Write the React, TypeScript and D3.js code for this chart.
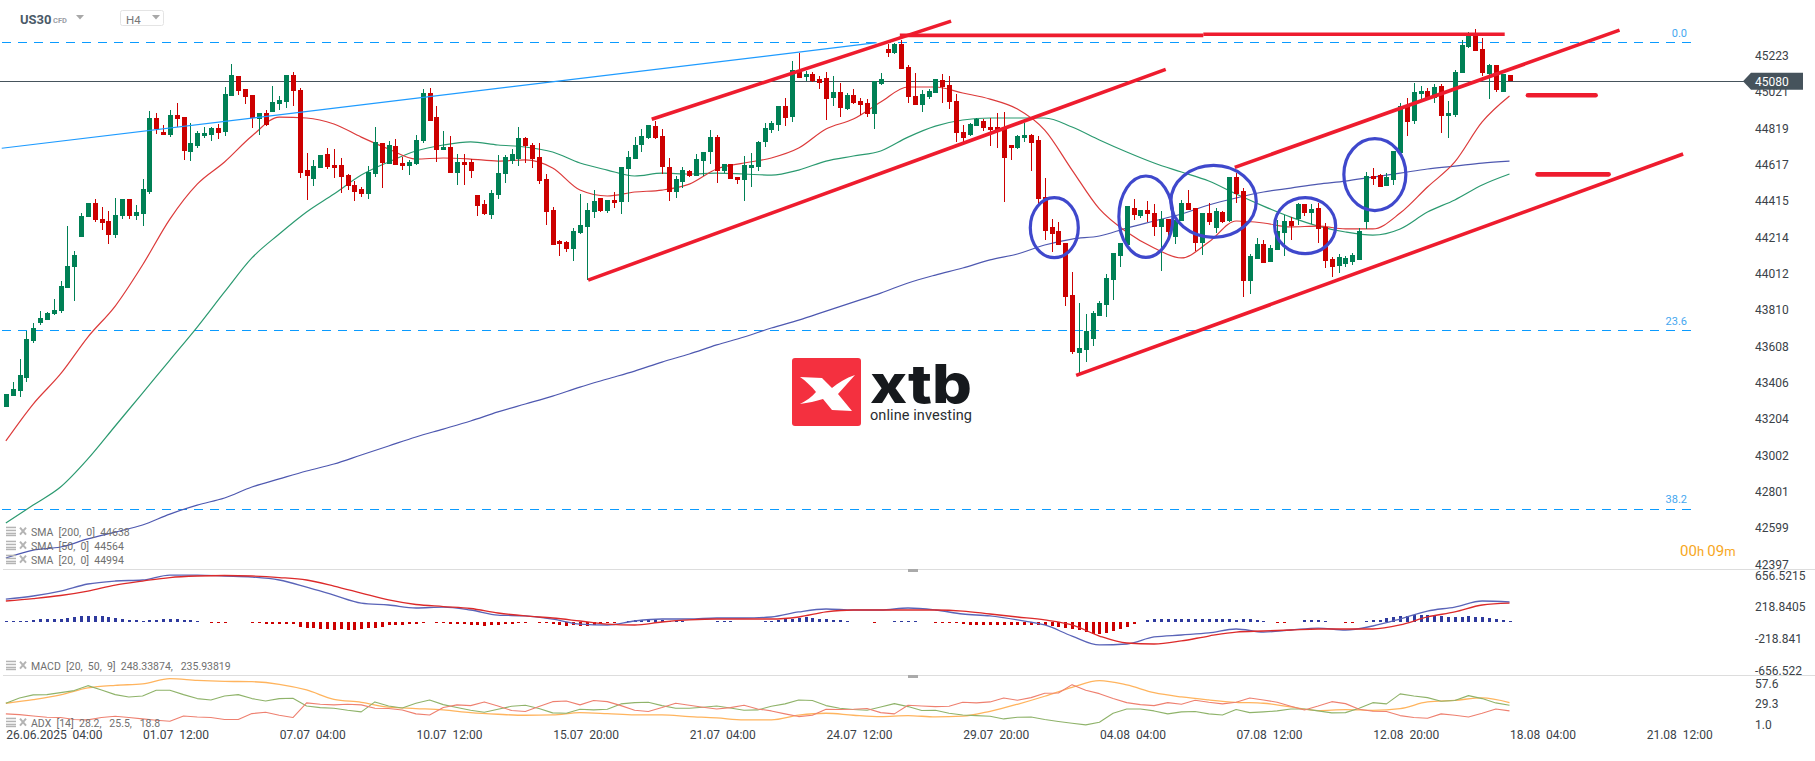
import * as d3 from "d3";
import React, { useEffect, useRef } from "react";

// OHLC, one value per candle
const candleOpen = [
  43274,43333,43360,43433,43638,43738,43755,43786,43805,43933,
  44049,44216,44327,44404,44316,44304,44227,44332,44427,44332,
  44343,44465,44876,44798,44782,44893,44882,44687,44721,44776,
  44782,44821,44798,44998,45109,45037,45004,44871,44904,44909,
  44954,44965,45115,45031,44587,44538,44599,44676,44615,44615,
  44560,44504,44482,44454,44565,44737,44621,44721,44626,44610,
  44621,44748,45015,44882,44698,44715,44571,44632,44632,44449,
  44399,44338,44449,44565,44637,44649,44765,44726,44660,44537,
  44366,44194,44188,44149,44238,44271,44354,44432,44360,44421,
  44410,44593,44649,44726,44765,44832,44776,44604,44465,44521,
  44582,44554,44637,44687,44771,44582,44621,44549,44532,44599,
  44604,44743,44809,44837,44943,44882,45143,45104,45120,45093,
  45098,44987,45020,44926,45004,44970,44959,44898,45065,45259,
  45237,45287,45159,44998,44948,44993,45015,45087,45059,44970,
  44798,44782,44832,44859,44826,44826,44821,44726,44710,44765,
  44782,44754,44438,44271,44249,44182,43894,43572,43588,43650,
  43777,43838,43977,44110,44171,44377,44332,44365,44349,44271,
  44316,44216,44304,44404,44377,44182,44349,44266,44354,44304,
  44549,44471,43971,44093,44177,44077,44143,44238,44304,44316,
  44399,44349,44377,44271,44094,44055,44065,44075,44090,44299,
  44554,44560,44499,44532,44682,44943,44859,45009,45026,44987,
  45054,44887,44893,45126,45270,45346,45259,45120,45170,45020,
  45115,
];
const candleHigh = [
  43344,43410,43536,43692,43738,43804,43799,43872,43971,44277,
  44138,44349,44404,44427,44382,44360,44432,44427,44427,44393,
  44538,44915,44904,44837,44921,44959,44882,44848,44804,44826,
  44826,44843,45048,45176,45109,45037,45004,44904,44921,45054,
  44998,45115,45131,45043,44682,44643,44671,44710,44704,44654,
  44565,44526,44493,44610,44826,44737,44748,44760,44660,44643,
  44782,45037,45043,44943,44804,44776,44676,44676,44649,44449,
  44421,44477,44671,44671,44704,44826,44771,44737,44737,44565,
  44382,44199,44193,44266,44454,44404,44477,44432,44421,44465,
  44604,44693,44771,44815,44837,44859,44815,44654,44554,44604,
  44588,44676,44687,44810,44782,44621,44621,44549,44665,44682,
  44748,44848,44859,44943,44987,45192,45237,45137,45131,45109,
  45131,45109,45070,45015,45037,44987,44982,45082,45126,45287,
  45295,45309,45170,45126,45031,45037,45093,45120,45109,45009,
  44837,44848,44876,44870,44874,44904,44908,44726,44782,44848,
  44787,44776,44543,44316,44299,44182,44021,43849,43788,43805,
  43860,44009,44127,44182,44388,44426,44365,44415,44399,44360,
  44316,44320,44421,44476,44377,44349,44404,44377,44360,44549,
  44571,44488,44121,44210,44199,44171,44310,44338,44328,44404,
  44399,44399,44404,44293,44105,44121,44110,44125,44265,44576,
  44599,44565,44571,44693,44959,44987,45070,45054,45043,45065,
  45065,44970,45143,45309,45355,45370,45320,45176,45170,45120,
  45115,
];
const candleLow = [
  43270,43333,43327,43410,43627,43727,43755,43780,43794,43933,
  43860,44216,44327,44299,44255,44177,44210,44315,44315,44310,
  44277,44454,44787,44782,44771,44826,44643,44637,44710,44765,
  44748,44760,44776,44998,45004,44954,44821,44782,44832,44909,
  44921,44932,44943,44543,44421,44499,44599,44593,44543,44460,
  44476,44415,44438,44427,44549,44488,44621,44615,44587,44560,
  44615,44737,44859,44632,44698,44571,44504,44504,44543,44332,
  44338,44316,44427,44515,44621,44610,44626,44599,44510,44282,
  44171,44110,44132,44082,44232,43977,44321,44354,44349,44377,
  44343,44410,44649,44687,44760,44760,44565,44415,44432,44488,
  44549,44554,44554,44621,44515,44571,44538,44510,44415,44493,
  44582,44715,44793,44804,44832,44854,45098,45082,45076,45037,
  44865,44943,44882,44920,44954,44893,44882,44815,45059,45215,
  45231,45148,44959,44948,44909,44982,45015,44959,44926,44743,
  44743,44776,44832,44804,44721,44710,44410,44643,44704,44743,
  44582,44399,44199,44132,44171,43833,43566,43450,43522,43611,
  43777,43772,43866,44049,44171,44310,44321,44299,44221,44027,
  44199,44177,44304,44365,44138,44116,44282,44238,44293,44299,
  44404,43883,43899,44093,44071,44077,44143,44110,44199,44282,
  44332,44288,44182,44043,43994,44016,44050,44060,44085,44260,
  44504,44493,44499,44504,44682,44776,44843,44976,44987,44959,
  44793,44765,44882,45126,45265,45248,45109,44982,45020,45020,
  45080,
];
const candleClose = [
  43344,43372,43449,43649,43710,43766,43793,43811,43944,44055,
  44116,44332,44404,44310,44293,44227,44338,44427,44332,44354,
  44482,44876,44815,44782,44893,44871,44693,44737,44793,44793,
  44821,44793,45009,45115,45026,44993,44876,44904,44837,44965,
  44976,45115,45026,44571,44554,44610,44671,44604,44600,44549,
  44499,44465,44454,44576,44743,44626,44726,44615,44610,44632,
  44754,45015,44859,44698,44715,44571,44632,44615,44582,44388,
  44343,44460,44571,44660,44676,44765,44721,44649,44526,44354,
  44171,44177,44149,44249,44282,44366,44415,44360,44421,44404,
  44604,44660,44726,44776,44837,44765,44604,44465,44538,44588,
  44554,44649,44687,44771,44582,44621,44538,44532,44615,44615,
  44743,44821,44848,44943,44876,45143,45098,45120,45082,45070,
  44982,45020,44932,45004,44959,44948,44898,45082,45093,45237,
  45287,45148,44993,44948,45009,45026,45093,45048,44965,44793,
  44765,44843,44870,44821,44810,44810,44654,44710,44776,44782,
  44737,44427,44249,44232,44171,43883,43577,43600,43694,43794,
  43849,43986,44127,44182,44388,44338,44365,44343,44271,44316,
  44243,44310,44404,44365,44182,44349,44299,44360,44299,44549,
  44454,43971,44110,44177,44071,44155,44249,44304,44277,44399,
  44349,44371,44260,44082,44049,44105,44100,44115,44249,44554,
  44538,44493,44549,44693,44943,44854,45020,45026,44987,45048,
  44887,44904,45131,45281,45345,45248,45126,45170,45031,45120,
  45080,
];

// moving averages, every 4th candle
const sma20 = [43083,43288,43455,43660,43832,44060,44315,44509,44632,44776,44881,44876,44843,44770,44704,44648,44654,44648,44637,44643,44598,44476,44443,44465,44476,44509,44593,44626,44654,44709,44815,44870,44965,45048,45048,45015,44981,44926,44809,44587,44371,44243,44154,44099,44187,44304,44293,44271,44276,44260,44260,44348,44493,44632,44854,44998];
const sma50 = [42627,42727,42827,42983,43166,43349,43532,43715,43910,44099,44232,44354,44454,44559,44632,44693,44726,44743,44726,44715,44687,44626,44587,44554,44570,44565,44570,44565,44559,44587,44637,44665,44693,44770,44831,44865,44876,44876,44876,44826,44754,44687,44626,44576,44526,44454,44387,44326,44276,44243,44226,44260,44354,44421,44504,44565];
const sma200 = [42433,42477,42494,42539,42577,42616,42677,42727,42766,42827,42872,42916,42955,43005,43055,43105,43149,43194,43244,43288,43332,43382,43427,43471,43521,43566,43616,43660,43710,43754,43804,43854,43904,43960,44004,44043,44088,44121,44171,44204,44221,44265,44304,44343,44393,44432,44465,44487,44509,44526,44548,44570,44593,44609,44626,44637];

// MACD lines, every 4th candle, histogram one per candle
const macdLine = [316,358,426,523,564,578,646,646,633,619,578,481,371,261,234,193,206,165,96,83,41,-28,-41,14,41,41,55,55,69,138,179,165,165,193,165,110,83,28,-41,-193,-316,-303,-206,-179,-151,-96,-138,-110,-83,-110,-55,41,151,206,289,275];
const macdSignal = [289,323,365,426,509,564,612,633,640,633,612,578,495,399,303,241,213,186,124,83,55,14,-28,-41,0,28,41,41,41,69,138,165,165,165,165,151,110,69,28,-41,-193,-289,-303,-261,-193,-138,-124,-110,-96,-96,-96,-41,69,138,234,261];
const macdHist = [
  14,14,14,14,28,41,41,41,41,55,
  62,76,89,76,76,62,55,48,34,21,
  14,28,34,41,41,41,34,21,14,0,
  -10,-10,-10,0,0,0,-10,-10,-28,-34,
  -34,-34,-34,-69,-83,-89,-96,-103,-110,-103,
  -110,-110,-96,-89,-76,-62,-48,-41,-41,-34,
  -28,-10,0,-10,-10,-21,-21,-21,-41,-41,
  -55,-48,-41,-34,-34,-10,-10,0,-10,-14,
  -28,-41,-55,-48,-55,-55,-48,-14,-10,-10,
  0,14,21,34,48,48,34,14,14,10,
  0,0,0,0,10,10,10,0,0,0,
  0,10,10,28,41,48,55,62,55,48,
  41,34,28,10,0,0,0,-10,0,0,
  10,10,10,10,0,0,-10,-10,-10,-10,
  -21,-41,-41,-41,-41,-48,-48,-41,-48,-48,
  -41,-41,-41,-55,-69,-83,-96,-110,-138,-165,
  -165,-151,-124,-96,-69,-28,0,28,48,48,
  48,48,48,48,48,48,41,41,41,41,
  34,41,41,28,14,0,-10,-10,0,0,
  21,21,21,10,0,0,-10,-10,0,10,
  34,34,55,62,76,89,103,103,103,89,
  76,69,69,69,76,69,69,55,41,28,
  10,
];

// ADX panel, ADX every 4th candle, DI lines every 2nd candle
const adxLine = [27.5,31.6,36.8,44.5,47.5,49.0,54.9,53.0,51.9,51.5,48.6,42.3,31.9,28.6,23.1,21.6,20.1,17.1,15.3,14.2,14.5,17.1,16.0,14.5,14.5,12.7,11.2,9.0,9.0,14.2,16.4,14.2,12.7,13.8,12.3,13.1,18.6,26.4,35.3,45.3,52.7,47.9,39.3,34.5,31.2,28.6,27.5,23.4,19.4,20.5,19.7,21.6,29.0,30.8,33.4,28.2];
const diPlus = [27.5,33.4,36.8,37.1,39.3,41.6,47.1,42.3,37.1,34.5,35.6,41.9,41.9,37.1,32.7,31.2,35.6,37.1,32.7,30.1,32.7,33.0,24.5,22.7,22.0,19.7,17.9,29.0,24.5,22.3,27.5,31.2,26.0,22.7,19.7,17.5,20.8,24.2,25.3,21.6,16.8,16.4,20.8,20.1,20.8,26.8,28.2,28.6,24.9,22.0,22.0,23.1,24.5,22.3,19.7,20.1,24.2,26.8,31.2,
  30.5,24.9,22.0,20.5,19.7,23.4,27.1,23.8,19.4,19.7,16.4,14.5,13.8,13.1,10.1,12.0,12.3,9.4,7.2,5.3,3.5,6.4,16.4,21.2,21.2,19.0,15.7,17.9,18.3,15.7,14.5,20.5,17.1,17.9,19.0,21.2,21.2,19.0,16.8,17.1,22.0,28.2,26.8,37.9,35.6,33.8,29.7,30.5,36.0,32.7,27.9,25.3];
const diMinus = [15.7,14.9,13.4,12.0,11.6,9.4,9.0,11.6,13.1,11.6,10.1,8.6,7.5,13.4,12.3,11.6,9.4,9.4,16.0,17.5,14.2,11.6,27.9,26.4,25.7,26.4,25.7,22.0,21.6,20.1,15.7,14.5,22.7,25.7,24.9,29.0,24.5,19.4,18.3,23.8,29.3,30.1,25.7,30.5,29.3,24.9,19.7,18.3,22.7,27.5,25.3,23.1,21.2,22.7,25.3,21.2,19.0,15.7,12.7,
  14.2,20.8,20.5,20.8,21.6,17.1,15.7,25.3,24.5,23.8,24.2,28.6,27.9,29.0,33.4,30.8,33.8,38.6,39.0,48.2,41.9,38.2,32.7,28.2,26.0,24.9,28.2,26.4,30.8,28.6,26.8,28.6,33.4,31.2,28.6,24.2,20.1,24.5,29.3,27.1,20.8,18.6,18.3,13.8,11.6,10.8,15.7,14.2,12.3,16.4,21.2,19.0];

// axis labels
const priceTicks = [45223,45021,44819,44617,44415,44214,44012,43810,43608,43406,43204,43002,42801,42599,42397];
const macdTicks = [656.5215,218.8405,-218.841,-656.522];
const adxTicks = [57.6,29.3,1.0];
const timeTicks = [0,20,40,60,80,100,120,140,160,180,200,220,240];
const timeLabels = ["26.06.2025  04:00","01.07  12:00","07.07  04:00","10.07  12:00","15.07  20:00","21.07  04:00","24.07  12:00","29.07  20:00","04.08  04:00","07.08  12:00","12.08  20:00","18.08  04:00","21.08  12:00"];
const lastPrice = 45080;

// fibonacci levels and hand drawn lines, in [candle, price]
const fibLevels = [["0.0",45295],["23.6",43694],["38.2",42705]] as [string, number][];
const redLines = [
  [94.5,44869,138.3,45414],
  [85.2,43976,169.7,45146],
  [130.8,45335,175.2,45335],
  [175.2,45341,219.3,45341],
  [179.8,44602,236.1,45364],
  [156.6,43447,245.4,44676],
];
const targetLines = [
  [222.7,45002,232.6,45002],
  [224.1,44563,234.5,44563],
];
const blueLine = [-0.6,44708,127.4,45294];
const circles = [
  [153.4,44267,24,30],
  [166.8,44328,27,40.7],
  [176.7,44413,42.7,36],
  [190.1,44278,30.5,28],
  [200.3,44562,31,36],
];

const FONT = "Roboto, sans-serif";

function ChartDraw(svgEl: SVGSVGElement) {
    const svg = d3.select(svgEl);
    svg.selectAll("*").remove();

    const x = d3.scaleLinear().domain([0, 220]).range([5.85, 1509.5]);
    const y = d3.scaleLinear().domain([42397, 45223]).range([564.5, 55.5]);
    const yMacd = d3.scaleLinear().domain([-656.522, 656.5215]).range([669.7, 574.3]);
    const yAdx = d3.scaleLinear().domain([1, 57.6]).range([727.1, 676.2]);
    const yAdxLabel = d3.scaleLinear().domain([1, 57.6]).range([724.3, 684]);

    function seriesLine(values: number[], step: number, scale: any, color: string, width: number, curve: any = d3.curveLinear) {
        const line = d3.line<number>().x((d, i) => x(i * step)).y(d => scale(d)).curve(curve);
        svg.append("path").attr("d", line(values)).attr("fill", "none")
            .attr("stroke", color).attr("stroke-width", width).attr("stroke-linejoin", "round");
    }

    // panel separators
    [569.5, 675.5].forEach(sy => {
        svg.append("line").attr("x1", 3).attr("x2", 1815).attr("y1", sy).attr("y2", sy)
            .attr("stroke", "#dddddd").attr("stroke-width", 1);
        svg.append("rect").attr("x", 908).attr("y", sy - 0.5).attr("width", 10).attr("height", 3).attr("fill", "#aaaaaa");
    });

    // fibonacci levels
    fibLevels.forEach(([label, price]) => {
        svg.append("line").attr("x1", 2).attr("x2", 1691).attr("y1", y(price)).attr("y2", y(price))
            .attr("stroke", "#0a9bff").attr("stroke-width", 1).attr("stroke-dasharray", "9 7").attr("shape-rendering", "crispEdges");
        svg.append("text").attr("x", 1687).attr("y", y(price) - 6).attr("text-anchor", "end")
            .attr("font-family", FONT).attr("font-size", 11).attr("fill", "#45a7ef").text(label);
    });

    // logo
    const logo = svg.append("g");
    logo.append("rect").attr("x", 792).attr("y", 358).attr("width", 69).attr("height", 68).attr("rx", 3).attr("fill", "#f4303f");
    logo.append("path").attr("d", "M800 377 L822 378 L832 388 C838 383 846 378 855 375 L838 394 L852 411 L832 410 L823 399 C816 401 808 403 800 404 C806 401 812 397 816 392 C812 387 806 381 800 377 Z").attr("fill", "#ffffff");
    logo.append("text").attr("x", 870).attr("y", 403).attr("font-family", "Inter, Roboto, sans-serif").attr("font-weight", 800)
        .attr("font-size", 54).attr("fill", "#16191d").attr("textLength", 102).attr("lengthAdjust", "spacingAndGlyphs").text("xtb");
    logo.append("text").attr("x", 870).attr("y", 420).attr("font-family", FONT).attr("font-size", 14.5)
        .attr("fill", "#2a2d31").attr("textLength", 102).text("online investing");

    // current price line, under the candles
    svg.append("line").attr("x1", 0).attr("x2", 1746).attr("y1", y(lastPrice)).attr("y2", y(lastPrice))
        .attr("stroke", "#46535c").attr("stroke-width", 1).attr("shape-rendering", "crispEdges");

    seriesLine(sma200, 4, y, "#4e58b0", 1.2, d3.curveMonotoneX);
    seriesLine(sma50, 4, y, "#2b9a70", 1.2, d3.curveMonotoneX);
    seriesLine(sma20, 4, y, "#dc3a3a", 1.2, d3.curveMonotoneX);

    // candles
    const candles = svg.append("g").attr("shape-rendering", "crispEdges");
    candleOpen.forEach((o, i) => {
        const c = candleClose[i];
        const color = c >= o ? "#008055" : "#cc0000";
        const cx = Math.round(x(i));
        candles.append("rect").attr("x", cx).attr("width", 1)
            .attr("y", y(candleHigh[i])).attr("height", y(candleLow[i]) - y(candleHigh[i])).attr("fill", color);
        candles.append("rect").attr("x", cx - 2).attr("width", 5)
            .attr("y", y(Math.max(o, c))).attr("height", Math.max(1, Math.abs(y(o) - y(c)))).attr("fill", color);
    });

    // drawings on top of the candles
    svg.append("line").attr("x1", x(blueLine[0])).attr("y1", y(blueLine[1])).attr("x2", x(blueLine[2])).attr("y2", y(blueLine[3]))
        .attr("stroke", "#1e9bff").attr("stroke-width", 1.2);
    redLines.forEach(l => {
        svg.append("line").attr("x1", x(l[0])).attr("y1", y(l[1])).attr("x2", x(l[2])).attr("y2", y(l[3]))
            .attr("stroke", "#ee1c2e").attr("stroke-width", 3.6);
    });
    targetLines.forEach(l => {
        svg.append("line").attr("x1", x(l[0])).attr("y1", y(l[1])).attr("x2", x(l[2])).attr("y2", y(l[3]))
            .attr("stroke", "#ee1c2e").attr("stroke-width", 4.6).attr("stroke-linecap", "round");
    });
    circles.forEach(e => {
        svg.append("ellipse").attr("cx", x(e[0])).attr("cy", y(e[1])).attr("rx", e[2]).attr("ry", e[3])
            .attr("fill", "none").attr("stroke", "#3f48cc").attr("stroke-width", 3.2);
    });

    // macd panel
    const bars = svg.append("g").attr("shape-rendering", "crispEdges");
    macdHist.forEach((v, i) => {
        if (v === 0) return;
        bars.append("rect").attr("x", Math.round(x(i)) - 1).attr("width", 3)
            .attr("y", v > 0 ? yMacd(v) : yMacd(0)).attr("height", Math.abs(yMacd(v) - yMacd(0)))
            .attr("fill", v > 0 ? "#2e3a9e" : "#cc0000");
    });
    seriesLine(macdLine, 4, yMacd, "#5a64b8", 1.3, d3.curveMonotoneX);
    seriesLine(macdSignal, 4, yMacd, "#dc2a2a", 1.3, d3.curveMonotoneX);

    // adx panel
    seriesLine(adxLine, 4, yAdx, "#ffb45e", 1.3, d3.curveMonotoneX);
    seriesLine(diPlus, 2, yAdx, "#8fb36a", 1.1);
    seriesLine(diMinus, 2, yAdx, "#ee8070", 1.1);

    // axes
    const styleAxis = (g: any, size: number, color: string) => {
        g.select(".domain").remove();
        g.selectAll(".tick line").remove();
        g.selectAll("text").attr("font-family", FONT).attr("font-size", size).attr("fill", color).attr("text-anchor", "start").attr("x", 0);
    };
    svg.append("g").attr("transform", "translate(1755,0)")
        .call(d3.axisRight(y).tickValues(priceTicks).tickFormat(d3.format("d") as any).tickSize(0))
        .call(styleAxis, 12, "#3a4248");
    svg.append("g").attr("transform", "translate(1755,1)")
        .call(d3.axisRight(yMacd).tickValues(macdTicks).tickFormat((d: any) => String(d)).tickSize(0))
        .call(styleAxis, 12, "#3a4248");
    svg.append("g").attr("transform", "translate(1755,0)")
        .call(d3.axisRight(yAdxLabel).tickValues(adxTicks).tickFormat(d3.format(".1f") as any).tickSize(0))
        .call(styleAxis, 12, "#3a4248");
    const timeAxis = svg.append("g").attr("transform", "translate(0,727)")
        .call(d3.axisBottom(x).tickValues(timeTicks).tickFormat((d: any, i: number) => timeLabels[i]).tickSize(0))
        .call(styleAxis, 12, "#3a4248");
    timeAxis.selectAll("text").style("white-space", "pre");

    // last price tag
    const yLast = y(lastPrice);
    svg.append("path").attr("fill", "#46535c")
        .attr("d", `M1743 ${yLast} L1751 ${yLast - 8.5} L1803 ${yLast - 8.5} L1803 ${yLast + 8.5} L1751 ${yLast + 8.5} Z`);
    svg.append("text").attr("x", 1755).attr("y", yLast + 4.4).attr("font-family", FONT).attr("font-size", 12)
        .attr("fill", "#ffffff").text(d3.format("d")(lastPrice));

    // countdown
    const timer = svg.append("text").attr("x", 1680).attr("y", 556).attr("font-family", FONT).attr("fill", "#f7a723");
    timer.append("tspan").attr("font-size", 15).text("00");
    timer.append("tspan").attr("font-size", 13).text("h ");
    timer.append("tspan").attr("font-size", 15).text("09");
    timer.append("tspan").attr("font-size", 13).text("m");

    // indicator legends
    const legends: [string, number][] = [
        ["SMA  [200,  0]  44638", 531.7],
        ["SMA  [50,  0]  44564", 545.7],
        ["SMA  [20,  0]  44994", 559.7],
        ["MACD  [20,  50,  9]  248.33874,   235.93819", 665.7],
        ["ADX  [14]  28.2,   25.5,   18.8", 722.7],
    ];
    legends.forEach(([label, ly]) => {
        [-5, -2, 1, 3].forEach(dy => {
            svg.append("rect").attr("x", 6).attr("y", ly + dy).attr("width", 10).attr("height", 1.5).attr("fill", "#b4b4b4");
        });
        svg.append("path").attr("d", `M20 ${ly - 4} L26 ${ly + 3} M26 ${ly - 4} L20 ${ly + 3}`)
            .attr("stroke", "#b4b4b4").attr("stroke-width", 2);
        svg.append("text").attr("x", 31).attr("y", ly + 4).attr("font-family", FONT).attr("font-size", 10.5)
            .attr("fill", "#707070").style("white-space", "pre").text(label);
    });

    // symbol header
    svg.append("text").attr("x", 20).attr("y", 23.5).attr("font-family", FONT).attr("font-weight", 700).attr("font-size", 13)
        .attr("fill", "#4a5a68").text("US30");
    svg.append("text").attr("x", 53).attr("y", 23).attr("font-family", FONT).attr("font-weight", 700).attr("font-size", 7.5)
        .attr("fill", "#9aa0a6").text("CFD");
    svg.append("path").attr("d", "M76 15 L84 15 L80 19.5 Z").attr("fill", "#a8a8a8");
    svg.append("rect").attr("x", 120.5).attr("y", 10.5).attr("width", 43).attr("height", 15).attr("rx", 2)
        .attr("fill", "#ffffff").attr("stroke", "#e4e4e4");
    svg.append("text").attr("x", 126).attr("y", 24).attr("font-family", FONT).attr("font-size", 11.5)
        .attr("fill", "#777777").text("H4");
    svg.append("path").attr("d", "M152 15 L160 15 L156 19.5 Z").attr("fill", "#a8a8a8");
}

export default function App() {
    const svgRef = useRef<SVGSVGElement>(null);

    useEffect(() => {
        if (svgRef.current) ChartDraw(svgRef.current);
    }, []);

    return <svg ref={svgRef} width={1815} height={761}
        style={{ position: "absolute", left: 0, top: 0, background: "#ffffff", display: "block" }}></svg>;
}
